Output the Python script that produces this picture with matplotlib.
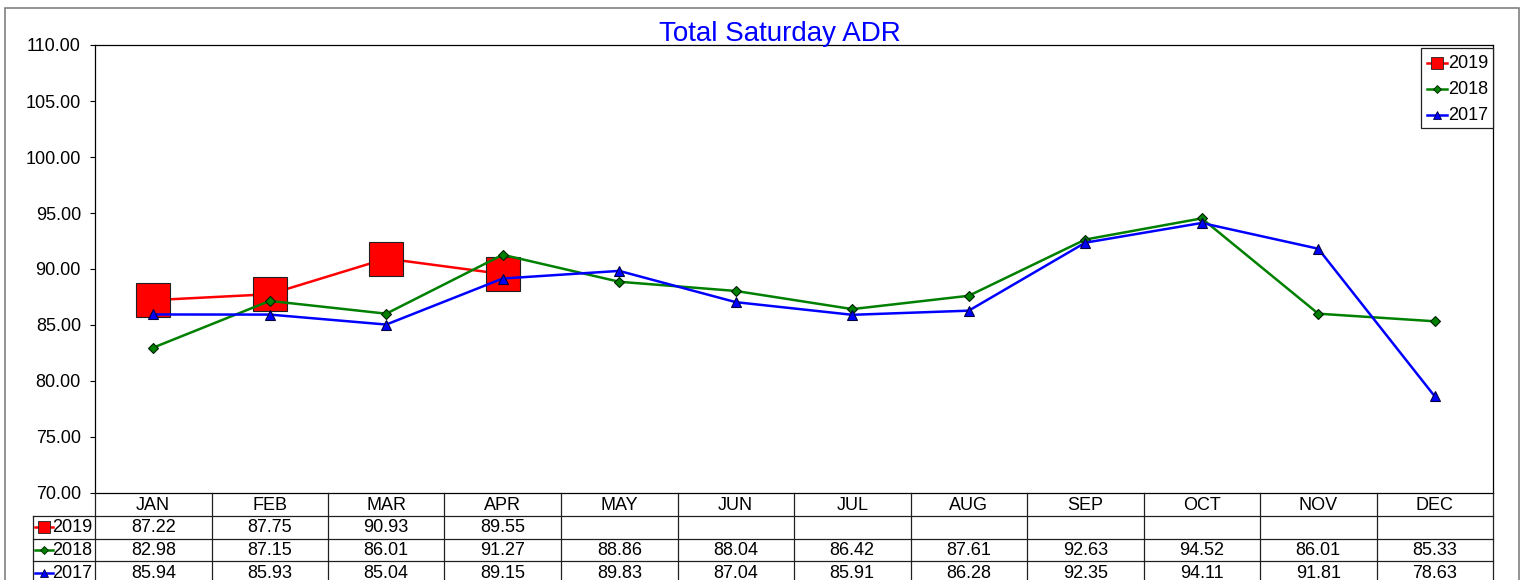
import matplotlib
matplotlib.use("Agg")
import matplotlib.pyplot as plt
from matplotlib.patches import Rectangle
from matplotlib.lines import Line2D
import numpy as np

plt.rcParams['font.family'] = ['Liberation Sans', 'DejaVu Sans']

months = ["JAN", "FEB", "MAR", "APR", "MAY", "JUN", "JUL", "AUG", "SEP", "OCT", "NOV", "DEC"]
adr_2019 = [87.22, 87.75, 90.93, 89.55]
adr_2018 = [82.98, 87.15, 86.01, 91.27, 88.86, 88.04, 86.42, 87.61, 92.63, 94.52, 86.01, 85.33]
adr_2017 = [85.94, 85.93, 85.04, 89.15, 89.83, 87.04, 85.91, 86.28, 92.35, 94.11, 91.81, 78.63]
y_ticks = [70, 75, 80, 85, 90, 95, 100, 105, 110]

W, H = 1526, 580
fig = plt.figure(figsize=(W / 100, H / 100), dpi=100)
FS = 13


def fx(px):
    return px / W


def fy(py):
    return 1 - py / H


# outer chart frame
fig.patches.append(Rectangle((fx(5), fy(600)), fx(1519) - fx(5), fy(8) - fy(600),
                             transform=fig.transFigure, fill=False,
                             edgecolor="#808080", linewidth=1.2))

left, right, top, bottom = 95, 1493, 45, 493
ax = fig.add_axes([fx(left), fy(bottom), fx(right) - fx(left), fy(top) - fy(bottom)])
ax.set_xlim(0, 12)
ax.set_ylim(70, 110)
ax.set_yticks(y_ticks)
ax.set_yticklabels([f"{v:.2f}" for v in y_ticks], fontsize=FS)
ax.set_xticks([])
ax.tick_params(axis="y", direction="out", length=3.6, width=0.8, pad=6.5)
for s in ax.spines.values():
    s.set_linewidth(0.9)

styles = {
    "2019": dict(color="#ff0000", marker="s", markersize=24.5, markerfacecolor="#ff0000",
                 markeredgecolor="#202020", markeredgewidth=0.8, linewidth=1.8),
    "2018": dict(color="#008000", marker="D", markersize=5, markerfacecolor="#008000",
                 markeredgecolor="#002000", markeredgewidth=0.8, linewidth=1.8),
    "2017": dict(color="#0000ff", marker="^", markersize=6.5, markerfacecolor="#0000ff",
                 markeredgecolor="#000040", markeredgewidth=0.8, linewidth=1.8),
}
small_ms = {"2019": 8, "2018": 4.5, "2017": 6}
series = [("2019", adr_2019), ("2018", adr_2018), ("2017", adr_2017)]

x_all = np.arange(12) + 0.5
for name, vals in series:
    ax.plot(x_all[:len(vals)], vals, label=name, **styles[name], zorder=3)

fig.text(fx(780), fy(34), "Total Saturday ADR", color="#0000ff", fontsize=20,
         ha="center", va="center")


def key(x0, x1, xm, yy, name, z=6):
    st = styles[name]
    fig.add_artist(Line2D([fx(x0), fx(x1)], [fy(yy), fy(yy)], transform=fig.transFigure,
                          color=st["color"], linewidth=1.8, zorder=z))
    fig.add_artist(Line2D([fx(xm)], [fy(yy)], transform=fig.transFigure,
                          marker=st["marker"], markersize=small_ms[name],
                          markerfacecolor=st["markerfacecolor"],
                          markeredgecolor=st["markeredgecolor"], markeredgewidth=0.6,
                          linestyle="none", zorder=z + 1))


# legend box
lg_l, lg_r, lg_t, lg_b = 1421, 1493, 48, 128
fig.patches.append(Rectangle((fx(lg_l), fy(lg_b)), fx(lg_r) - fx(lg_l), fy(lg_t) - fy(lg_b),
                             transform=fig.transFigure, facecolor="white",
                             edgecolor="#202020", linewidth=0.9, zorder=5))
for i, (name, _) in enumerate(series):
    yy = 62.5 + i * 26.3
    key(1427, 1447, 1437, yy, name)
    fig.text(fx(1448), fy(yy + 0.5), name, fontsize=FS, ha="left", va="center", zorder=7)

# data table under the plot
col_w = (right - left) / 12
row_h = 22.8
rows_top = [bottom + k * row_h for k in range(4)]
lab_l = 33
lc = "#202020"


def hline(x0, x1, y):
    fig.add_artist(Line2D([fx(x0), fx(x1)], [fy(y), fy(y)], transform=fig.transFigure,
                          color=lc, linewidth=0.9))


def vline(x, y0, y1):
    fig.add_artist(Line2D([fx(x), fx(x)], [fy(y0), fy(y1)], transform=fig.transFigure,
                          color=lc, linewidth=0.9))


for r in range(1, 4):
    hline(lab_l, right, rows_top[r])
vline(lab_l, rows_top[1], 600)
for c in range(13):
    vline(left + c * col_w, bottom, 600)

for c, m in enumerate(months):
    fig.text(fx(left + (c + 0.5) * col_w), fy(bottom + row_h / 2 + 0.8), m, fontsize=FS,
             ha="center", va="center")

for r, (name, vals) in enumerate(series):
    yc = rows_top[r + 1] + row_h / 2 + 0.8
    key(35, 53, 44, yc - 0.5, name)
    fig.text(fx(92), fy(yc), name, fontsize=FS, ha="right", va="center")
    for c, v in enumerate(vals):
        fig.text(fx(left + (c + 0.5) * col_w), fy(yc), f"{v:.2f}", fontsize=FS,
                 ha="center", va="center")

fig.savefig("out.png", dpi=100)
